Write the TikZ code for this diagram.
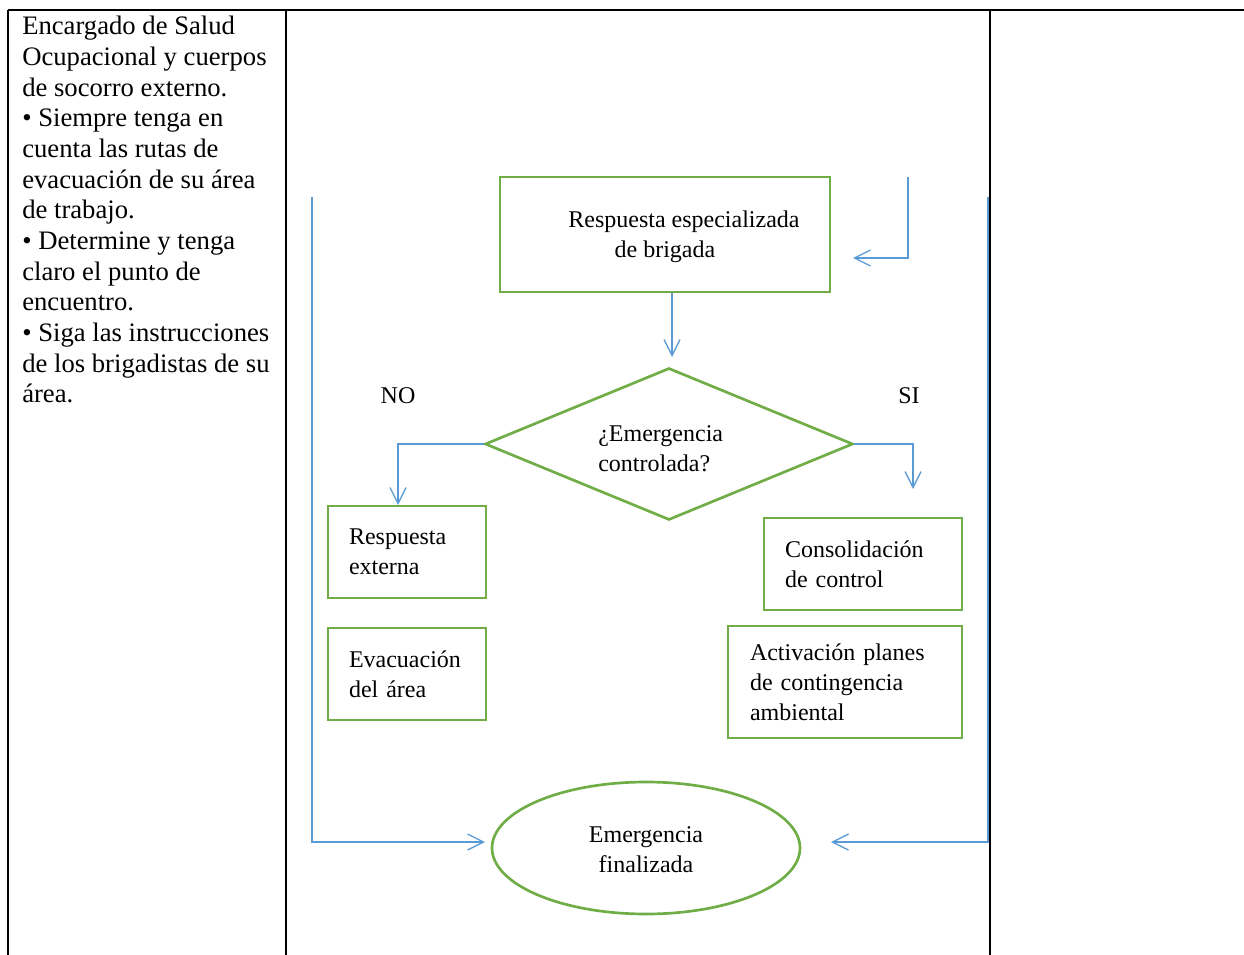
\documentclass[tikz,border=0pt]{standalone}
\usepackage{fontspec}
\setmainfont{Liberation Serif}
\usetikzlibrary{arrows.meta,shapes.geometric}
\definecolor{grn}{RGB}{112,173,71}
\definecolor{blu}{RGB}{91,155,213}
\begin{document}
\begin{tikzpicture}[x=0.75pt,y=-0.75pt,
 tbl/.style={line width=1.5pt,black},
 fc/.style={draw=grn,line width=2pt,inner sep=0pt,font=\fontsize{18}{22.5}\selectfont},
 conn/.style={draw=blu,line width=1pt,-{Straight Barb[length=12pt,width=12pt]}},
 lbl/.style={font=\fontsize{18}{22.5}\selectfont,inner sep=0pt}]
\useasboundingbox (0,0) rectangle (1244,955);
% table
\draw[tbl] (8,10) -- (1244,10);
\draw[tbl] (8,10) -- (8,955);
\draw[tbl] (286,10) -- (286,955);
\draw[tbl] (990,10) -- (990,955);
% left column text
\node[anchor=north west,align=left,inner sep=0pt,font=\fontsize{20}{23}\selectfont] (col) at (22,16)
 {Encargado de Salud\\Ocupacional y cuerpos\\de socorro externo.\\• Siempre tenga en\\cuenta las rutas de\\evacuación de su área\\de trabajo.\\• Determine y tenga\\claro el punto de\\encuentro.\\• Siga las instrucciones\\de los brigadistas de su\\área.};
% flowchart
\node[fc,rectangle,minimum width=247.5pt,minimum height=86.25pt] (resp) at (665,234.5) {};
\node[lbl,align=center] (respt) at (665,237)
 {\hspace*{28.5pt}Respuesta especializada\\de brigada};
\node[fc,diamond,minimum width=276pt,minimum height=114pt,shape aspect=2.42] (dia) at (669,444) {};
\node[lbl,align=left,anchor=west] (diat) at (598,449)
 {¿Emergencia\\controlada?};
\node[fc,rectangle,minimum width=118.5pt,minimum height=69pt,text width=87pt,align=left] (ext) at (407,552)
 {Respuesta\\externa};
\node[fc,rectangle,minimum width=118.5pt,minimum height=69pt,text width=87pt,align=left] (evac) at (407,674)
 {Evacuación\\del área};
\node[fc,rectangle,minimum width=148.5pt,minimum height=69pt,text width=117pt,align=left] (cons) at (863,564)
 {Consolidación\\de control};
\node[fc,rectangle,minimum width=175.5pt,minimum height=84pt,text width=142.5pt,align=left] (act) at (845,682)
 {Activación planes\\de contingencia\\ambiental};
\node[fc,ellipse,minimum width=231pt,minimum height=99pt] (fin) at (646,848) {};
\node[lbl,align=center] (fint) at (646,850) {Emergencia\\finalizada};
\node[lbl] (no) at (398,396) {NO};
\node[lbl] (si) at (909,396) {SI};
% coordinates
\coordinate (a1) at (672,357);
\coordinate (noend) at (398,505);
\coordinate (siend) at (913,489);
\coordinate (ltop) at (312,197);
\coordinate (lend) at (485,842);
\coordinate (rtop) at (988,197);
\coordinate (rend) at (831,842);
\coordinate (trtop) at (908,177);
\coordinate (trend) at (853,258);
% connectors
\draw[conn] (resp.south -| a1) -- (a1);
\draw[conn] (dia.west) -| (noend);
\draw[conn] (dia.east) -| (siend);
\draw[conn] (ltop) |- (lend);
\draw[conn] (rtop) |- (rend);
\draw[conn] (trtop) |- (trend);
\end{tikzpicture}
\end{document}
